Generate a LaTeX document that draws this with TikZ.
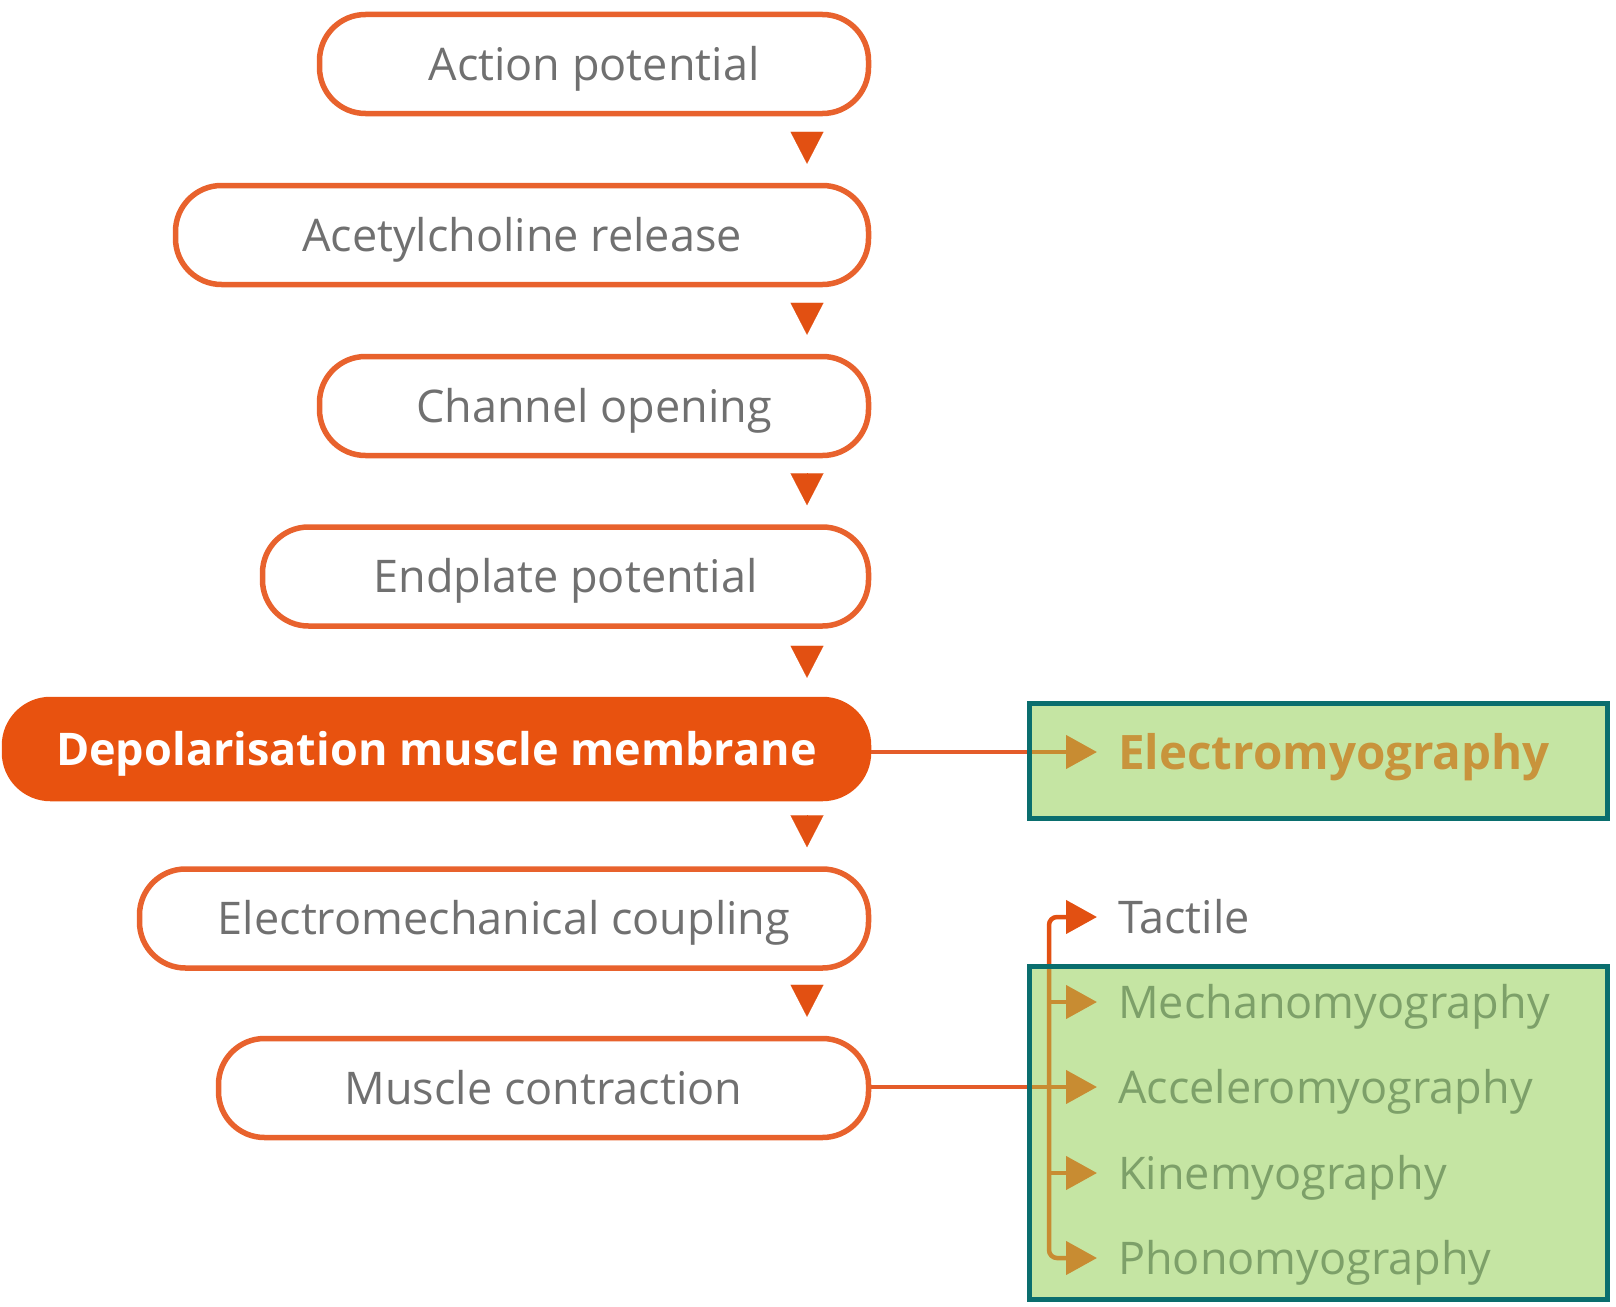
\documentclass[tikz,border=0pt]{standalone}
\usepackage{fontspec}
\setmainfont{Open Sans}
\usetikzlibrary{arrows.meta,calc}
\definecolor{boxorange}{RGB}{232,98,45}
\definecolor{triorange}{RGB}{226,80,18}
\definecolor{depfill}{RGB}{232,82,15}
\definecolor{lineorange}{RGB}{228,92,42}
\definecolor{goldc}{RGB}{200,140,50}
\definecolor{greenbg}{RGB}{197,229,163}
\definecolor{tealc}{RGB}{10,110,110}
\definecolor{graytext}{RGB}{112,112,112}
\definecolor{greentext}{RGB}{125,160,105}
\definecolor{emgtext}{RGB}{200,148,60}
\tikzset{
  stepbox/.style={draw=boxorange, line width=5.5pt, fill=white, rounded corners=46pt,
    minimum height=99pt, inner sep=0pt, text=graytext,
    font=\fontsize{45}{54}\selectfont, text height=32pt, text depth=0pt},
  depbox/.style={stepbox, draw=depfill, fill=depfill, text=white, font=\fontsize{45}{54}\selectfont\bfseries},
  flow/.style={draw=triorange, line width=0.1pt, -{Triangle[length=32pt,width=33pt]},
    shorten >=19pt, shorten <=19pt},
  sidelabel/.style={anchor=west, inner sep=0pt, font=\fontsize{45}{54}\selectfont,
    text height=32pt, text depth=0pt},
  oline/.style={draw=lineorange, line width=4.5pt},
  gline/.style={draw=goldc, line width=4.5pt},
  tip/.style={-{Triangle[length=31pt,width=33pt]}},
  greenfill/.style={fill=greenbg, draw=none, inner sep=0pt},
  tealframe/.style={draw=tealc, line width=5pt}
}
\begin{document}
\begin{tikzpicture}[x=1pt,y=-1pt]
\useasboundingbox (0,0) rectangle (1616,1306);
% flow boxes
\node[stepbox, minimum width=549pt] (ap)  at (594,64)     {Action potential};
\node[stepbox, minimum width=693pt] (ach) at (522,235)    {Acetylcholine release};
\node[stepbox, minimum width=549pt] (co)  at (594,406)    {Channel opening};
\node[stepbox, minimum width=606pt] (ep)  at (565.5,576.5){Endplate potential};
\node[depbox,  minimum width=864pt] (dep) at (436.5,749)  {Depolarisation muscle membrane};
\node[stepbox, minimum width=729pt] (emc) at (504,918.5)  {Electromechanical coupling};
\node[stepbox, minimum width=650pt] (mc)  at (543.5,1088) {Muscle contraction};
\coordinate (tx) at (807,0);
\draw[flow] (ap.south -| tx)  -- (ach.north -| tx);
\draw[flow] (ach.south -| tx) -- (co.north -| tx);
\draw[flow] (co.south -| tx)  -- (ep.north -| tx);
\draw[flow] (ep.south -| tx)  -- (dep.north -| tx);
\draw[flow] (dep.south -| tx) -- (emc.north -| tx);
\draw[flow] (emc.south -| tx) -- (mc.north -| tx);
% green boxes (fill)
\node[greenfill, minimum width=578pt, minimum height=115pt] (ebox) at (1318.5,761) {};
\node[greenfill, minimum width=578pt, minimum height=333pt] (mbox) at (1318.5,1133) {};
% labels
\node[sidelabel, text=emgtext, font=\fontsize{47.5}{56}\selectfont\bfseries, text height=34pt] (emg) at (1118,752) {Electromyography};
\node[sidelabel, text=graytext]  (tac) at (1118,917)  {Tactile};
\node[sidelabel, text=greentext] (mec) at (1118,1002) {Mechanomyography};
\node[sidelabel, text=greentext] (acc) at (1118,1087) {Acceleromyography};
\node[sidelabel, text=greentext] (kin) at (1118,1173) {Kinemyography};
\node[sidelabel, text=greentext] (pho) at (1118,1258) {Phonomyography};
\coordinate (vx) at (1049,0);
% electromyography connector
\draw[oline] (dep.east |- emg.west) -- (ebox.west |- emg.west);
\draw[gline, tip] (ebox.west |- emg.west) -- ([xshift=-21pt]emg.west);
% muscle contraction connectors
\draw[oline] (mc.east |- acc.west) -- (mbox.west |- acc.west);
\draw[gline] (mbox.west |- acc.west) -- (vx |- acc.west);
\draw[oline, tip, rounded corners=8pt, draw=triorange] (vx |- mbox.north) |- ([xshift=-21pt]tac.west);
\draw[gline, tip, rounded corners=8pt] (vx |- mbox.north) |- ([xshift=-21pt]pho.west);
\draw[gline, tip] (vx |- mec.west) -- ([xshift=-21pt]mec.west);
\draw[gline, tip] (vx |- acc.west) -- ([xshift=-21pt]acc.west);
\draw[gline, tip] (vx |- kin.west) -- ([xshift=-21pt]kin.west);
% teal frames
\draw[tealframe] (ebox.north west) rectangle (ebox.south east);
\draw[tealframe] (mbox.north west) rectangle (mbox.south east);
\end{tikzpicture}
\end{document}
